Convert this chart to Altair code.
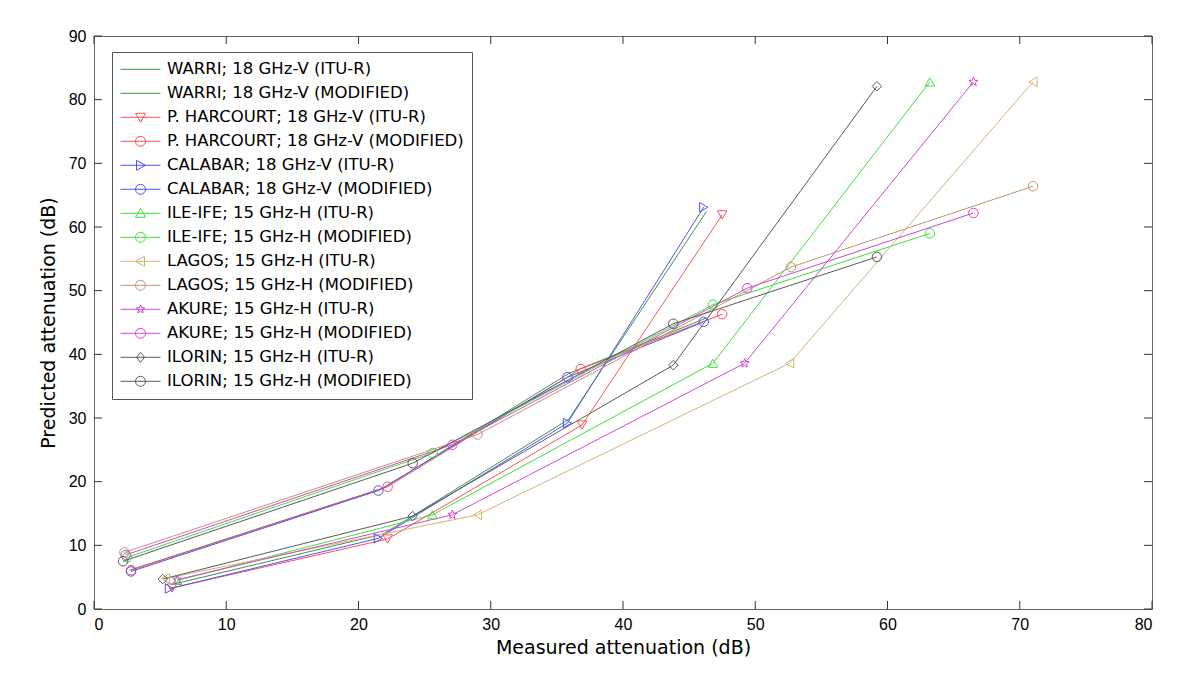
import math
import altair as alt
import pandas as pd

# ---------------- data ----------------
series = [
    "WARRI; 18 GHz-V (ITU-R)",
    "WARRI; 18 GHz-V (MODIFIED)",
    "P. HARCOURT; 18 GHz-V (ITU-R)",
    "P. HARCOURT; 18 GHz-V (MODIFIED)",
    "CALABAR; 18 GHz-V (ITU-R)",
    "CALABAR; 18 GHz-V (MODIFIED)",
    "ILE-IFE; 15 GHz-H (ITU-R)",
    "ILE-IFE; 15 GHz-H (MODIFIED)",
    "LAGOS; 15 GHz-H (ITU-R)",
    "LAGOS; 15 GHz-H (MODIFIED)",
    "AKURE; 15 GHz-H (ITU-R)",
    "AKURE; 15 GHz-H (MODIFIED)",
    "ILORIN; 15 GHz-H (ITU-R)",
    "ILORIN; 15 GHz-H (MODIFIED)",
]

colors = [
    "#3f943f", "#3f943f",
    "#ff5050", "#ff5050",
    "#5050ff", "#5050ff",
    "#3ee03e", "#3ee03e",
    "#d2b478", "#c8926e",
    "#d048d0", "#d048d0",
    "#5a5a5a", "#5a5a5a",
]

markers = [
    None, None,
    "triangle-down", "circle",
    "triangle-right", "circle",
    "triangle-up", "circle",
    "triangle-left", "circle",
    "star", "circle",
    "diamond", "circle",
]

# measured (x) and predicted (y) attenuation, dB
warri_itu_x = [5.8, 21.9, 35.9, 46.3]
warri_itu_y = [3.8, 11.8, 29.8, 62.4]
warri_mod_x = [2.7, 21.9, 35.9, 46.3]
warri_mod_y = [6.1, 19.0, 37.0, 45.7]

harcourt_itu_x = [5.9, 22.2, 36.9, 47.5]
harcourt_itu_y = [3.3, 11.0, 28.9, 61.9]
harcourt_mod_x = [2.8, 22.2, 36.8, 47.5]
harcourt_mod_y = [6.1, 19.2, 37.7, 46.3]

calabar_itu_x = [5.7, 21.5, 35.8, 46.1]
calabar_itu_y = [3.2, 11.1, 29.2, 63.1]
calabar_mod_x = [2.8, 21.5, 35.8, 46.1]
calabar_mod_y = [5.9, 18.6, 36.4, 45.1]

ileife_itu_x = [6.3, 25.6, 46.8, 63.2]
ileife_itu_y = [4.5, 14.8, 38.6, 82.8]
ileife_mod_x = [2.5, 25.6, 46.8, 63.2]
ileife_mod_y = [8.1, 24.5, 47.8, 59.0]

lagos_itu_x = [5.4, 29.0, 52.6, 71.0]
lagos_itu_y = [4.8, 14.8, 38.6, 82.8]
lagos_mod_x = [2.3, 29.0, 52.7, 71.0]
lagos_mod_y = [8.9, 27.4, 53.7, 66.4]

akure_itu_x = [6.3, 27.1, 49.2, 66.5]
akure_itu_y = [4.6, 14.8, 38.6, 82.8]
akure_mod_x = [2.4, 27.1, 49.4, 66.5]
akure_mod_y = [8.5, 25.8, 50.4, 62.2]

ilorin_itu_x = [5.2, 24.1, 43.8, 59.2]
ilorin_itu_y = [4.7, 14.6, 38.3, 82.1]
ilorin_mod_x = [2.2, 24.1, 43.8, 59.2]
ilorin_mod_y = [7.5, 22.9, 44.8, 55.3]

series_x = [warri_itu_x, warri_mod_x, harcourt_itu_x, harcourt_mod_x,
            calabar_itu_x, calabar_mod_x, ileife_itu_x, ileife_mod_x,
            lagos_itu_x, lagos_mod_x, akure_itu_x, akure_mod_x,
            ilorin_itu_x, ilorin_mod_x]
series_y = [warri_itu_y, warri_mod_y, harcourt_itu_y, harcourt_mod_y,
            calabar_itu_y, calabar_mod_y, ileife_itu_y, ileife_mod_y,
            lagos_itu_y, lagos_mod_y, akure_itu_y, akure_mod_y,
            ilorin_itu_y, ilorin_mod_y]

x_ticks = [0, 10, 20, 30, 40, 50, 60, 70, 80]
y_ticks = [0, 10, 20, 30, 40, 50, 60, 70, 80, 90]

MK = " ·"  # suffix for the keys of the plotted markers

# ---------------- tables ----------------
rows = []
for i, (name, xs, ys) in enumerate(zip(series, series_x, series_y)):
    for j, (xv, yv) in enumerate(zip(xs, ys)):
        rows.append({"series": name, "key": name + MK, "pt": j, "x": xv, "y": yv,
                     "marker": markers[i] is not None})
df = pd.DataFrame(rows)
df_pts = df[df["marker"]].drop(columns=["marker"])
df = df.drop(columns=["marker"])

xt = pd.DataFrame({"v": x_ticks})
yt = pd.DataFrame({"v": y_ticks})


def star_path(scale):
    pts = []
    for k in range(10):
        rad = scale if k % 2 == 0 else scale * 0.42
        a = -math.pi / 2 + k * math.pi / 5
        pts.append(f"{rad*math.cos(a):.3f},{rad*math.sin(a):.3f}")
    return "M" + "L".join(pts) + "Z"


# legend symbols: a short line with the marker on it (unit-square SVG path)
r = 0.25
marker_paths = {
    "circle": f"M{r},0A{r},{r},0,1,1,{-r},0A{r},{r},0,1,1,{r},0Z",
    "triangle-down": "M-0.25,-0.2L0.25,-0.2L0,0.25Z",
    "triangle-up": "M-0.25,0.2L0.25,0.2L0,-0.25Z",
    "triangle-right": "M-0.2,-0.25L0.25,0L-0.2,0.25Z",
    "triangle-left": "M0.2,-0.25L-0.25,0L0.2,0.25Z",
    "diamond": "M0,-0.25L0.2,0L0,0.25L-0.2,0Z",
    "star": star_path(0.22),
}
legend_shapes = ["M-1,0L1,0" + (marker_paths[m] if m else "") for m in markers]
plot_shapes = [(star_path(1.0) if m == "star" else m) if m else "circle" for m in markers]

dom = series + [s + MK for s in series]
color_scale = alt.Scale(domain=dom, range=colors + colors)
shape_scale = alt.Scale(domain=dom, range=legend_shapes + plot_shapes)

FONT = "Liberation Sans"
LFONT = "DejaVu Sans"
W, H = 1058, 573

x_scale = alt.Scale(domain=[0, 80], nice=False, zero=False)
y_scale = alt.Scale(domain=[0, 90], nice=False, zero=False)

x_axis = alt.Axis(values=x_ticks, ticks=False, domain=False, grid=False,
                  labelFontSize=16, labelFont=FONT, labelColor="black",
                  labelPadding=7, title="Measured attenuation (dB)",
                  titleFont=LFONT, titleFontSize=19, titleFontWeight="normal",
                  titleColor="black", titlePadding=6, orient="bottom")
y_axis = alt.Axis(values=y_ticks, ticks=False, domain=False, grid=False,
                  labelFontSize=16, labelFont=FONT, labelColor="black",
                  labelPadding=8, title="Predicted attenuation (dB)",
                  titleFont=LFONT, titleFontSize=19, titleFontWeight="normal",
                  titleColor="black", titlePadding=10, orient="left")

legend = alt.Legend(
    title=None, orient="none", legendX=18, legendY=16, values=series,
    fillColor="white", strokeColor="#555555", padding=8,
    labelFont=LFONT, labelFontSize=16.5, labelColor="black", labelOffset=6,
    symbolSize=1600, symbolStrokeWidth=1, rowPadding=5, clipHeight=18.6,
    labelLimit=500,
)

lines = alt.Chart(df).mark_line(strokeWidth=1).encode(
    x=alt.X("x:Q", scale=x_scale, axis=x_axis),
    y=alt.Y("y:Q", scale=y_scale, axis=y_axis),
    color=alt.Color("series:N", scale=color_scale, legend=legend),
    detail="series:N",
    order="pt:Q",
)

points = alt.Chart(df_pts).mark_point(filled=False, size=90, strokeWidth=1, opacity=1).encode(
    x=alt.X("x:Q", scale=x_scale, axis=x_axis),
    y=alt.Y("y:Q", scale=y_scale, axis=y_axis),
    color=alt.Color("key:N", scale=color_scale, legend=legend),
    shape=alt.Shape("key:N", scale=shape_scale, legend=legend),
)

tick_color = "#333333"
xb = alt.Chart(xt).mark_rule(color=tick_color).encode(
    x=alt.X("v:Q", scale=x_scale, axis=x_axis), y=alt.value(H), y2=alt.value(H - 8))
xtp = alt.Chart(xt).mark_rule(color=tick_color).encode(
    x=alt.X("v:Q", scale=x_scale, axis=x_axis), y=alt.value(0), y2=alt.value(8))
yl = alt.Chart(yt).mark_rule(color=tick_color).encode(
    y=alt.Y("v:Q", scale=y_scale, axis=y_axis), x=alt.value(0), x2=alt.value(8))
yr = alt.Chart(yt).mark_rule(color=tick_color).encode(
    y=alt.Y("v:Q", scale=y_scale, axis=y_axis), x=alt.value(W), x2=alt.value(W - 8))

chart = alt.layer(lines, xb, xtp, yl, yr, points).properties(
    width=W, height=H,
    autosize=alt.AutoSizeParams(type="none"),
    padding={"left": 86, "top": 28, "right": 40, "bottom": 62},
    background="white",
).configure_view(stroke="#666666", strokeWidth=1)

chart.save("out.html", embed_options={"renderer": "svg", "actions": False})
